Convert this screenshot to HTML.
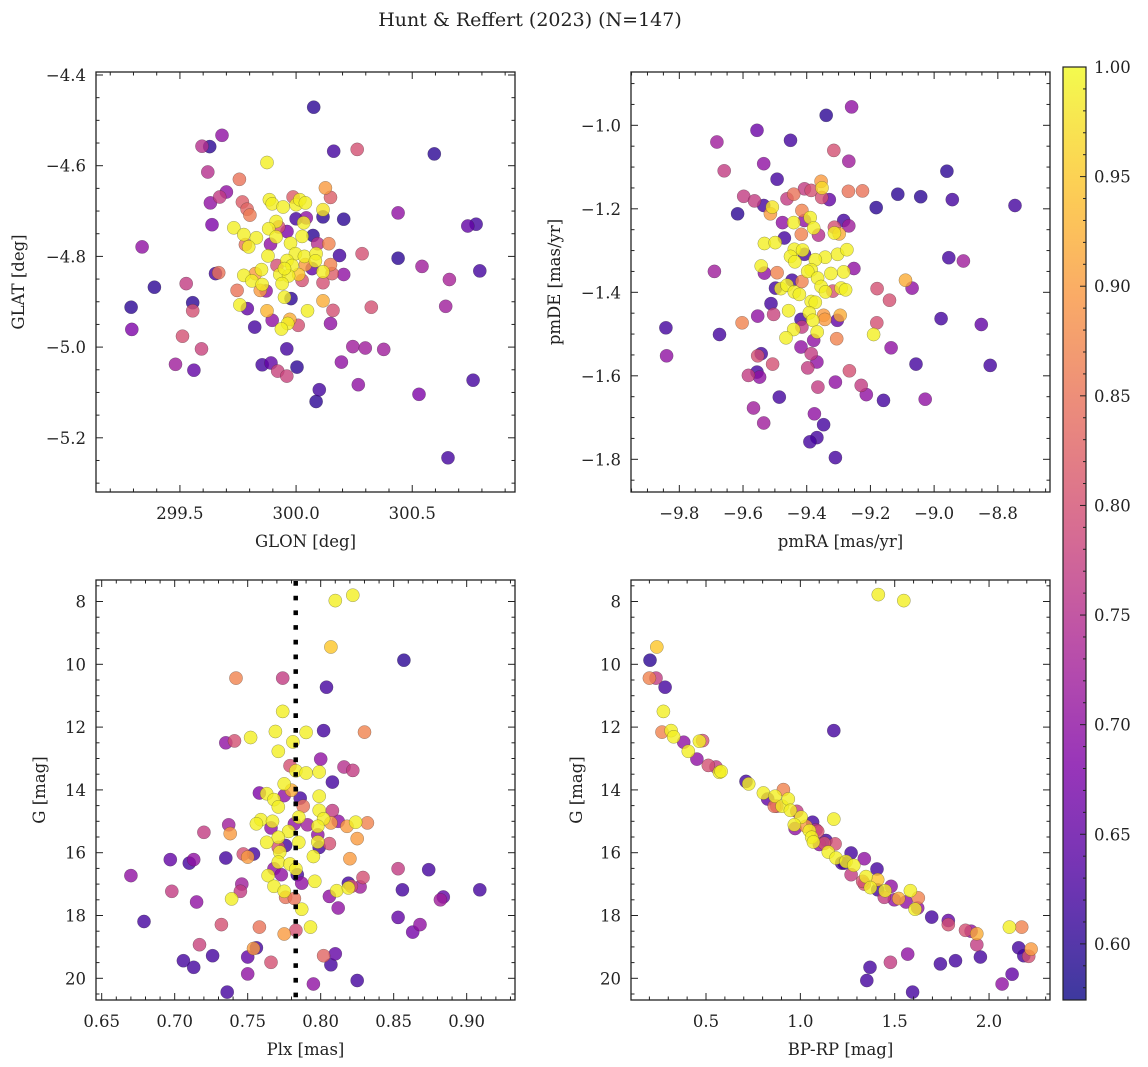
<!DOCTYPE html>
<html><head><meta charset="utf-8"><style>
html,body{margin:0;padding:0;background:#fff}
svg{display:block}
text{font-family:"DejaVu Serif","Liberation Serif",serif;fill:#222}
</style></head><body>
<svg id="fig" width="1148" height="1067" viewBox="0 0 1148 1067" xmlns="http://www.w3.org/2000/svg">
<text x="530" y="26" text-anchor="middle" font-size="19">Hunt &amp; Reffert (2023) (N=147)</text>
</svg>
<script>
// ---- Data: top-left (GLON / GLAT) ----
const tlGlon=[300.076,299.681,299.595,299.628,300.162,300.263,300.595,299.875,299.620,299.756,300.126,300.148,299.700,299.671,299.631,299.769,299.789,299.801,299.885,299.897,299.944,299.987,300.000,300.016,300.040,300.116,300.116,300.205,300.439,300.739,300.775,300.000,300.044,300.033,299.914,299.638,299.732,299.882,299.925,299.961,299.775,299.829,299.914,300.026,300.073,299.782,299.796,299.890,299.976,300.093,300.141,299.337,299.879,299.997,300.036,300.086,300.187,300.284,300.439,299.961,300.083,300.040,299.983,300.148,300.542,300.069,300.791,299.653,299.667,299.825,299.851,299.775,299.930,299.968,300.011,300.116,300.155,300.205,300.660,299.810,299.854,300.026,300.116,299.940,299.527,299.390,299.746,299.846,299.871,299.950,299.978,299.555,299.290,300.116,300.324,300.644,299.758,299.790,299.555,299.875,300.049,300.159,299.897,299.973,299.964,300.009,300.148,299.822,299.937,299.293,299.511,299.593,299.960,300.244,300.298,300.377,299.481,299.560,299.854,299.892,299.921,299.960,300.004,300.195,300.100,300.086,300.268,300.529,300.762,300.654,299.950,299.918];
const tlGlat=[-4.471,-4.533,-4.557,-4.558,-4.568,-4.564,-4.574,-4.593,-4.614,-4.630,-4.649,-4.670,-4.658,-4.669,-4.682,-4.680,-4.696,-4.709,-4.675,-4.684,-4.691,-4.669,-4.686,-4.675,-4.682,-4.697,-4.713,-4.718,-4.704,-4.733,-4.729,-4.717,-4.715,-4.726,-4.723,-4.730,-4.737,-4.739,-4.735,-4.745,-4.752,-4.759,-4.757,-4.756,-4.754,-4.774,-4.779,-4.773,-4.771,-4.772,-4.772,-4.779,-4.799,-4.794,-4.800,-4.794,-4.798,-4.794,-4.804,-4.809,-4.810,-4.818,-4.820,-4.818,-4.822,-4.827,-4.832,-4.838,-4.836,-4.838,-4.829,-4.842,-4.840,-4.843,-4.840,-4.834,-4.838,-4.840,-4.851,-4.854,-4.862,-4.853,-4.858,-4.860,-4.860,-4.868,-4.875,-4.875,-4.876,-4.890,-4.893,-4.902,-4.912,-4.898,-4.912,-4.910,-4.907,-4.915,-4.920,-4.920,-4.920,-4.919,-4.941,-4.939,-4.948,-4.952,-4.948,-4.956,-4.960,-4.961,-4.976,-5.004,-5.004,-4.999,-5.002,-5.005,-5.038,-5.051,-5.039,-5.035,-5.053,-5.064,-5.044,-5.033,-5.094,-5.120,-5.083,-5.104,-5.073,-5.244,-4.827,-4.820];
const tlProb=[.6,.7,.75,.6,.62,.8,.6,.99,.75,.85,.9,.82,.7,.77,.7,.82,.83,.86,.99,.99,.99,.82,.99,.99,.99,.98,.6,.6,.7,.65,.62,.62,.7,.99,.99,.68,.99,.99,.8,.68,.99,.99,.99,.99,.6,.85,.99,.7,.99,.75,.87,.7,.99,.99,.99,.99,.62,.8,.6,.99,.99,.9,.99,.87,.72,.65,.62,.62,.85,.9,.99,.99,.99,.99,.95,.99,.82,.7,.73,.99,.99,.8,.8,.99,.77,.6,.85,.9,.7,.99,.6,.6,.6,.92,.8,.72,.99,.65,.8,.93,.99,.8,.7,.92,.99,.8,.7,.62,.99,.68,.8,.78,.62,.72,.72,.72,.72,.65,.62,.65,.78,.78,.6,.7,.62,.6,.7,.68,.62,.62,.99,.8];
// ---- Data: top-right (pmRA / pmDE) ----
const trPmra=[-9.259,-9.339,-9.556,-9.682,-9.451,-9.315,-9.268,-9.535,-9.659,-8.960,-9.493,-9.355,-9.352,-9.407,-9.386,-9.269,-9.225,-9.114,-9.042,-8.943,-9.598,-9.564,-9.441,-9.462,-9.329,-9.353,-9.535,-9.508,-9.514,-8.746,-9.182,-9.617,-9.415,-9.389,-9.407,-9.441,-9.476,-9.284,-9.378,-9.313,-9.268,-9.313,-9.298,-9.417,-9.363,-9.470,-9.533,-9.499,-9.439,-9.413,-9.407,-9.451,-9.342,-9.303,-9.274,-9.373,-9.437,-8.954,-8.908,-9.543,-9.533,-9.252,-9.386,-9.397,-9.690,-9.493,-9.324,-9.284,-9.366,-9.446,-9.415,-9.090,-9.069,-9.179,-9.498,-9.481,-9.462,-9.355,-9.318,-9.341,-9.292,-9.278,-9.439,-9.423,-9.512,-9.140,-9.386,-9.373,-9.457,-9.504,-9.554,-9.392,-9.347,-9.295,-9.304,-9.343,-9.418,-9.381,-8.978,-9.603,-9.842,-9.180,-8.852,-9.415,-9.441,-9.367,-9.674,-9.190,-9.465,-9.378,-9.306,-9.418,-9.135,-9.840,-9.543,-9.554,-9.386,-9.368,-9.507,-9.057,-8.824,-9.397,-9.266,-9.556,-9.583,-9.548,-9.310,-9.229,-9.365,-9.213,-9.159,-9.028,-9.486,-9.567,-9.535,-9.376,-9.347,-9.368,-9.390,-9.310];
const trPmde=[-0.956,-0.976,-1.012,-1.040,-1.036,-1.060,-1.086,-1.092,-1.109,-1.110,-1.129,-1.134,-1.150,-1.152,-1.156,-1.158,-1.157,-1.165,-1.171,-1.178,-1.170,-1.181,-1.165,-1.176,-1.178,-1.173,-1.192,-1.196,-1.212,-1.192,-1.197,-1.212,-1.204,-1.221,-1.228,-1.233,-1.233,-1.228,-1.246,-1.244,-1.241,-1.258,-1.260,-1.261,-1.263,-1.270,-1.283,-1.281,-1.297,-1.299,-1.309,-1.314,-1.316,-1.309,-1.298,-1.322,-1.327,-1.317,-1.325,-1.337,-1.354,-1.343,-1.346,-1.350,-1.350,-1.353,-1.355,-1.351,-1.366,-1.371,-1.374,-1.371,-1.390,-1.391,-1.390,-1.391,-1.383,-1.386,-1.397,-1.399,-1.390,-1.394,-1.399,-1.405,-1.427,-1.419,-1.422,-1.424,-1.444,-1.453,-1.457,-1.449,-1.455,-1.455,-1.467,-1.465,-1.465,-1.467,-1.463,-1.473,-1.485,-1.473,-1.477,-1.483,-1.489,-1.495,-1.501,-1.501,-1.509,-1.515,-1.511,-1.531,-1.533,-1.552,-1.547,-1.552,-1.547,-1.567,-1.572,-1.572,-1.575,-1.581,-1.588,-1.591,-1.599,-1.603,-1.615,-1.623,-1.627,-1.645,-1.659,-1.656,-1.651,-1.677,-1.713,-1.691,-1.717,-1.748,-1.758,-1.796];
const trProb=[.7,.6,.66,.72,.62,.8,.72,.7,.77,.6,.62,.9,.97,.77,.8,.85,.85,.6,.6,.62,.77,.77,.85,.77,.65,.8,.62,.98,.9,.62,.6,.6,.87,.99,.7,.99,.7,.62,.99,.8,.72,.99,.92,.87,.75,.62,.99,.99,.99,.99,.62,.99,.99,.99,.99,.99,.99,.62,.72,.99,.7,.7,.99,.99,.72,.87,.99,.99,.99,.62,.87,.92,.7,.8,.62,.99,.99,.99,.8,.99,.99,.99,.99,.99,.62,.8,.99,.99,.99,.78,.7,.99,.9,.92,.65,.9,.62,.99,.62,.87,.62,.8,.65,.77,.99,.99,.62,.99,.99,.7,.87,.7,.7,.7,.62,.8,.77,.7,.8,.62,.62,.77,.8,.62,.77,.7,.7,.77,.77,.7,.62,.7,.62,.72,.72,.7,.62,.62,.62,.62];
// ---- Data: bottom-left (Plx / G) ----
const blPlx=[0.822,0.810,0.807,0.857,0.742,0.774,0.804,0.774,0.769,0.790,0.802,0.830,0.752,0.735,0.741,0.781,0.771,0.800,0.779,0.816,0.822,0.783,0.790,0.799,0.808,0.775,0.780,0.758,0.763,0.775,0.786,0.799,0.768,0.788,0.771,0.799,0.808,0.785,0.802,0.812,0.807,0.759,0.756,0.767,0.737,0.818,0.824,0.832,0.782,0.791,0.798,0.766,0.720,0.738,0.778,0.798,0.825,0.771,0.763,0.776,0.785,0.806,0.798,0.799,0.771,0.772,0.697,0.710,0.713,0.735,0.747,0.750,0.754,0.795,0.820,0.771,0.779,0.768,0.783,0.773,0.784,0.853,0.874,0.670,0.764,0.787,0.796,0.829,0.746,0.819,0.827,0.821,0.768,0.909,0.856,0.698,0.745,0.811,0.819,0.775,0.806,0.776,0.782,0.884,0.882,0.715,0.739,0.787,0.812,0.679,0.853,0.868,0.863,0.732,0.758,0.793,0.775,0.783,0.717,0.756,0.754,0.706,0.726,0.750,0.766,0.802,0.810,0.807,0.713,0.750,0.825,0.795,0.736];
const blG=[7.80,7.97,9.45,9.87,10.44,10.44,10.73,11.50,12.14,12.17,12.11,12.16,12.33,12.50,12.44,12.47,12.77,13.02,13.23,13.27,13.38,13.39,13.46,13.43,13.75,13.81,14.01,14.10,14.12,14.18,14.26,14.20,14.31,14.52,14.54,14.65,14.66,14.87,14.92,15.00,15.05,14.95,15.08,15.00,15.11,15.16,15.03,15.05,15.08,15.11,15.16,15.21,15.35,15.39,15.32,15.43,15.55,15.51,15.67,15.77,15.67,15.71,15.66,15.83,15.83,15.98,16.22,16.33,16.22,16.17,16.04,16.14,16.04,16.12,16.19,16.30,16.36,16.51,16.52,16.70,16.70,16.51,16.54,16.73,16.73,16.97,16.91,16.79,17.00,16.97,17.09,17.07,17.07,17.18,17.18,17.23,17.23,17.21,17.12,17.23,17.39,17.42,17.46,17.41,17.50,17.57,17.47,17.80,17.76,18.19,18.06,18.29,18.53,18.29,18.37,18.37,18.59,18.47,18.93,19.03,19.05,19.44,19.28,19.32,19.49,19.28,19.22,19.57,19.65,19.86,20.07,20.18,20.44];
const blProb=[.99,.99,.95,.6,.87,.77,.62,.99,.99,.99,.62,.87,.99,.7,.8,.99,.99,.7,.8,.75,.77,.99,.99,.99,.62,.99,.92,.68,.99,.7,.62,.99,.99,.85,.99,.99,.77,.99,.99,.7,.9,.99,.99,.99,.72,.9,.99,.87,.7,.72,.99,.7,.77,.9,.99,.7,.9,.99,.99,.62,.99,.8,.99,.62,.8,.99,.65,.62,.7,.62,.8,.9,.62,.99,.9,.99,.99,.7,.99,.7,.62,.77,.62,.7,.99,.7,.99,.8,.72,.62,.72,.8,.99,.62,.62,.77,.77,.99,.99,.99,.7,.85,.85,.65,.72,.7,.99,.99,.7,.62,.65,.7,.67,.8,.85,.99,.9,.8,.78,.62,.9,.62,.62,.65,.8,.83,.65,.62,.62,.7,.62,.7,.62];
const plxRef=0.7829;
// ---- Data: bottom-right (BP-RP / G) ----
const brBprp=[1.413,1.548,0.239,0.203,0.200,0.235,0.283,0.274,1.177,0.267,0.315,0.329,0.382,0.465,0.482,0.406,0.452,0.512,0.553,0.571,0.580,0.712,0.726,0.804,0.827,0.866,0.910,0.875,0.903,0.936,0.947,0.981,1.004,1.065,0.968,0.972,1.030,1.048,1.092,1.060,1.069,1.177,1.136,1.184,1.101,1.148,1.189,1.269,1.219,1.339,1.242,1.283,1.269,1.406,1.348,1.339,1.371,1.410,1.410,1.449,1.481,1.445,1.498,1.521,1.583,1.625,1.560,1.622,1.608,1.696,1.784,1.784,1.875,1.905,1.935,1.935,1.954,2.108,2.173,2.157,2.184,2.210,2.223,1.569,1.369,1.352,1.477,1.742,1.822,1.595,2.069,2.122,0.862,1.127,1.233,1.330,1.083];
const brG=[7.78,7.97,9.45,9.87,10.44,10.44,10.73,11.50,12.11,12.16,12.11,12.31,12.48,12.45,12.43,12.77,13.02,13.22,13.27,13.44,13.41,13.73,13.81,14.10,14.29,14.20,13.99,14.52,14.52,14.29,14.65,14.68,14.87,15.03,15.11,15.23,15.16,15.30,15.32,15.51,15.66,14.93,15.61,15.72,15.74,15.98,16.17,16.01,16.33,16.19,16.28,16.40,16.70,16.52,16.76,17.00,17.11,16.86,17.18,17.21,17.07,17.42,17.50,17.46,17.21,17.44,17.57,17.76,17.80,18.05,18.16,18.29,18.47,18.50,18.58,18.93,19.32,18.37,18.37,19.03,19.28,19.30,19.07,19.23,19.65,20.07,19.49,19.54,19.44,20.44,20.18,19.87,14.52,15.70,16.33,16.91,15.27];
const brProb=[.99,.99,.95,.6,.87,.77,.62,.99,.62,.87,.99,.99,.7,.99,.8,.99,.7,.8,.77,.99,.99,.62,.99,.99,.65,.99,.87,.8,.99,.99,.99,.77,.99,.62,.99,.7,.9,.99,.8,.99,.99,.99,.62,.8,.7,.99,.99,.62,.62,.7,.99,.99,.77,.62,.99,.8,.99,.95,.62,.99,.7,.77,.7,.92,.99,.87,.7,.7,.99,.62,.65,.8,.8,.7,.92,.77,.62,.99,.87,.62,.62,.8,.9,.7,.62,.62,.77,.62,.62,.62,.7,.65,.85,.8,.62,.8,.75];
// ---- Tick labels ----
const tlXTicks=[299.5,300.0,300.5];
const tlYTicks=[-4.4,-4.6,-4.8,-5.0,-5.2];
const trXTicks=[-9.8,-9.6,-9.4,-9.2,-9.0,-8.8];
const trYTicks=[-1.0,-1.2,-1.4,-1.6,-1.8];
const blXTicks=[0.65,0.70,0.75,0.80,0.85,0.90];
const gTicks=[8,10,12,14,16,18,20];
const brXTicks=[0.5,1.0,1.5,2.0];
const cbTicks=[0.60,0.65,0.70,0.75,0.80,0.85,0.90,0.95,1.00];
const vmin=0.5744, vmax=1.0;

const NS="http://www.w3.org/2000/svg";
const svg=document.getElementById('fig');
function mk(tag,attrs,parent){const e=document.createElementNS(NS,tag);for(const k in attrs)e.setAttribute(k,attrs[k]);(parent||svg).appendChild(e);return e;}
const stops=[[0,13,8,135],[0.125,76,2,161],[0.25,126,3,168],[0.375,169,35,149],[0.5,204,71,120],[0.625,229,107,93],[0.75,248,148,65],[0.875,253,195,40],[1,240,249,33]];
function plasma(t){t=Math.max(0,Math.min(1,t));for(let i=1;i<stops.length;i++){if(t<=stops[i][0]){const a=stops[i-1],b=stops[i],f=(t-a[0])/(b[0]-a[0]);return 'rgb('+[1,2,3].map(j=>Math.round(a[j]+f*(b[j]-a[j]))).join(',')+')';}}return 'rgb(240,249,33)';}
function fmt(v,d){return (v<0?'\u2212':'')+Math.abs(v).toFixed(d);}

function panel(o){
  const g=mk('g',{});
  
  
  const sx=v=>o.x0+(v-o.xmin)/(o.xmax-o.xmin)*(o.x1-o.x0);
  const sy=o.yinv?(v=>o.y0+(v-o.ymin)/(o.ymax-o.ymin)*(o.y1-o.y0)):(v=>o.y1-(v-o.ymin)/(o.ymax-o.ymin)*(o.y1-o.y0));
  // points sorted by prob
  const idx=o.xs.map((_,i)=>i).sort((a,b)=>o.ps[a]-o.ps[b]);
  const pg=mk('g',{},g);
  
  
  const cid='clip-'+o.name;
  const cp=mk('clipPath',{id:cid},g);mk('rect',{x:o.x0,y:o.y0,width:o.x1-o.x0,height:o.y1-o.y0},cp);
  pg.setAttribute('clip-path','url(#'+cid+')');
  idx.forEach(i=>{
    const c=mk('circle',{cx:sx(o.xs[i]).toFixed(1),cy:sy(o.ys[i]).toFixed(1),r:6.6,fill:plasma((o.ps[i]-vmin)/(vmax-vmin)),'fill-opacity':0.8,stroke:'rgba(40,40,40,0.45)','stroke-width':0.5},pg);
    
    
  });
  if(o.extra)o.extra(g,sx,sy);
  // frame
  const fr=mk('rect',{x:o.x0,y:o.y0,width:o.x1-o.x0,height:o.y1-o.y0,fill:'none',stroke:'#222','stroke-width':1.3},g);
  
  
  // ticks
  const tk=mk('g',{stroke:'#222','stroke-width':1},g);
  const eps=1e-9;
  for(let v=Math.ceil(o.xmin/o.xminor-eps)*o.xminor;v<=o.xmax+eps;v+=o.xminor){
    const X=sx(v);const major=Math.abs(v/o.xmajor-Math.round(v/o.xmajor))<1e-6;const L=major?7:3.5;
    mk('line',{x1:X,y1:o.y1,x2:X,y2:o.y1-L},tk);mk('line',{x1:X,y1:o.y0,x2:X,y2:o.y0+L},tk);
  }
  for(let v=Math.ceil(o.ymin/o.yminor-eps)*o.yminor;v<=o.ymax+eps;v+=o.yminor){
    const Y=sy(v);const major=Math.abs(v/o.ymajor-Math.round(v/o.ymajor))<1e-6;const L=major?7:3.5;
    mk('line',{x1:o.x0,y1:Y,x2:o.x0+L,y2:Y},tk);mk('line',{x1:o.x1,y1:Y,x2:o.x1-L,y2:Y},tk);
  }
  o.xticks.forEach(v=>{const t=mk('text',{x:sx(v),y:o.y1+27,'text-anchor':'middle','font-size':16.5},g);t.textContent=fmt(v,o.xd);
    
    });
  o.yticks.forEach(v=>{const t=mk('text',{x:o.x0-10,y:sy(v)+6,'text-anchor':'end','font-size':16.5},g);t.textContent=fmt(v,o.yd);
    
    });
  const xl=mk('text',{x:(o.x0+o.x1)/2,y:o.y1+55,'text-anchor':'middle','font-size':16.5},g);xl.textContent=o.xlabel;
  
  
  const yl=mk('text',{x:o.ylx,y:(o.y0+o.y1)/2,'text-anchor':'middle','font-size':16.5,transform:'rotate(-90 '+o.ylx+' '+((o.y0+o.y1)/2)+')'},g);yl.textContent=o.ylabel;
  
  
}

panel({name:'glon-glat-panel',x0:96,x1:515,y0:72,y1:492,xmin:299.1387,xmax:300.9424,ymin:-5.3195,ymax:-4.3934,xs:tlGlon,ys:tlGlat,ps:tlProb,xmajor:0.5,xminor:0.1,ymajor:0.2,yminor:0.05,xticks:tlXTicks,yticks:tlYTicks,xd:1,yd:1,xlabel:'GLON [deg]',ylabel:'GLAT [deg]',ylx:24});
panel({name:'pm-panel',x0:631,x1:1050,y0:72,y1:492,xmin:-9.9517,xmax:-8.6362,ymin:-1.8783,ymax:-0.8723,xs:trPmra,ys:trPmde,ps:trProb,xmajor:0.2,xminor:0.05,ymajor:0.2,yminor:0.05,xticks:trXTicks,yticks:trYTicks,xd:1,yd:1,xlabel:'pmRA [mas/yr]',ylabel:'pmDE [mas/yr]',ylx:560});
panel({name:'plx-g-panel',x0:96,x1:515,y0:580,y1:1000,xmin:0.6461,xmax:0.9331,ymin:7.315,ymax:20.691,yinv:true,xs:blPlx,ys:blG,ps:blProb,xmajor:0.05,xminor:0.01,ymajor:2,yminor:0.5,xticks:blXTicks,yticks:gTicks,xd:2,yd:0,xlabel:'Plx [mas]',ylabel:'G [mag]',ylx:45,
  extra:(g,sx,sy)=>{const l=mk('line',{x1:sx(plxRef),x2:sx(plxRef),y1:581,y2:1000,stroke:'#000','stroke-width':4.5,'stroke-dasharray':'4.7 10'},g);
    
    }});
panel({name:'cmd-panel',x0:631,x1:1050,y0:580,y1:1000,xmin:0.1025,xmax:2.323,ymin:7.315,ymax:20.691,yinv:true,xs:brBprp,ys:brG,ps:brProb,xmajor:0.5,xminor:0.1,ymajor:2,yminor:0.5,xticks:brXTicks,yticks:gTicks,xd:1,yd:0,xlabel:'BP-RP [mag]',ylabel:'G [mag]',ylx:582});

// colorbar
(function(){
  const cx0=1063,cx1=1086,cy0=67,cy1=1000;
  const cg=mk('g',{});
  
  
  const defs=mk('defs',{},cg);const lg=mk('linearGradient',{id:'cbg',x1:0,y1:1,x2:0,y2:0},defs);
  for(let i=0;i<=20;i++){mk('stop',{offset:i/20,'stop-color':plasma(i/20)},lg);}
  mk('rect',{x:cx0,y:cy0,width:cx1-cx0,height:cy1-cy0,fill:'url(#cbg)','fill-opacity':0.8},cg);
  mk('rect',{x:cx0,y:cy0,width:cx1-cx0,height:cy1-cy0,fill:'none',stroke:'#222','stroke-width':1.2},cg);
  const sy=v=>cy1-(v-vmin)/(vmax-vmin)*(cy1-cy0);
  for(let k=58;k<=100;k++){const v=k/100;const Y=sy(v);const major=k%5===0;
    mk('line',{x1:cx1,x2:cx1-(major?6:3),y1:Y,y2:Y,stroke:'#222','stroke-width':1},cg);}
  cbTicks.forEach(v=>{const t=mk('text',{x:cx1+8,y:sy(v)+6,'font-size':16.5},cg);t.textContent=v.toFixed(2);
    
    });
})();
</script>
</body></html>
